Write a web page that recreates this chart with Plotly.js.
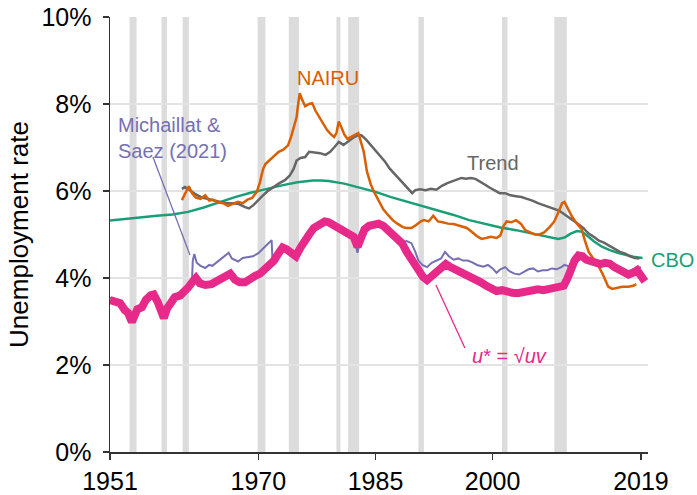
<!DOCTYPE html>
<html>
<head>
<meta charset="utf-8">
<script src="https://cdn.plot.ly/plotly-3.0.1.min.js"></script>
<style>html,body{margin:0;padding:0;background:#fff;}#chart{width:697px;height:495px;}</style>
</head>
<body>
<div id="chart"></div>
<script>
// NBER recessions
const recStart = [1953.5, 1957.6, 1960.3, 1969.9, 1973.9, 1980.0, 1981.5, 1990.5, 2001.2, 2007.9];
const recEnd   = [1954.4, 1958.3, 1961.1, 1970.9, 1975.2, 1980.5, 1982.9, 1991.2, 2001.9, 2009.5];

// u* = sqrt(uv)
const uStarYear = [1951.0,1951.6,1952.3,1952.9,1953.3,1953.8,1954.2,1954.5,1955.1,1955.6,1956.2,1956.6,1957.1,1957.6,1957.9,1958.3,1958.7,1959.3,1960.0,1960.5,1961.1,1961.6,1962.0,1962.5,1963.2,1964.0,1964.6,1965.2,1965.7,1966.4,1967.0,1967.6,1968.3,1969.0,1969.6,1970.2,1970.8,1971.4,1972.0,1972.5,1973.1,1973.6,1974.2,1974.8,1975.4,1975.9,1976.5,1977.1,1977.8,1978.5,1979.0,1979.6,1980.1,1980.6,1981.2,1981.7,1982.2,1982.7,1983.1,1983.6,1984.2,1984.8,1985.4,1986.0,1986.6,1987.2,1987.8,1988.4,1989.0,1989.5,1990.0,1990.6,1991.1,1991.6,1992.2,1992.8,1993.4,1994.0,1994.6,1995.2,1995.8,1996.5,1997.2,1997.8,1998.5,1999.2,1999.8,2000.5,2001.2,2001.8,2002.5,2003.2,2003.8,2004.5,2005.2,2005.8,2006.5,2007.2,2007.8,2008.5,2009.1,2009.6,2010.0,2010.5,2011.0,2011.5,2012.0,2012.6,2013.2,2013.8,2014.4,2015.0,2015.6,2016.2,2016.8,2017.4,2018.0,2018.5,2019.0,2019.5];
const uStarVal  = [3.49,3.45,3.42,3.26,3.2,2.99,3.15,3.28,3.33,3.5,3.6,3.62,3.45,3.25,3.08,3.3,3.42,3.56,3.6,3.68,3.8,3.92,4.0,3.88,3.84,3.86,3.92,3.98,4.02,4.1,3.96,3.9,3.9,4.0,4.05,4.1,4.2,4.3,4.4,4.55,4.7,4.66,4.57,4.5,4.7,4.88,5.0,5.15,5.22,5.3,5.28,5.22,5.2,5.15,5.1,5.05,4.95,4.72,4.95,5.12,5.2,5.25,5.25,5.2,5.1,5.05,4.95,4.8,4.6,4.45,4.3,4.12,4.02,3.95,4.05,4.1,4.22,4.32,4.25,4.2,4.15,4.1,4.02,3.95,3.9,3.82,3.75,3.7,3.72,3.68,3.66,3.65,3.68,3.72,3.72,3.74,3.72,3.74,3.76,3.78,3.82,4.0,4.2,4.4,4.52,4.5,4.42,4.4,4.36,4.32,4.35,4.33,4.25,4.18,4.15,4.08,4.12,4.18,4.05,3.92];

// Michaillat & Saez (2021)
const msYear = [1951.0,1951.6,1952.3,1952.9,1953.3,1953.8,1954.2,1954.5,1955.1,1955.6,1956.2,1956.6,1957.1,1957.6,1957.9,1958.3,1958.7,1959.3,1960.0,1960.5,1961.1,1961.5,1961.6,1961.8,1962.1,1962.6,1963.2,1963.7,1964.1,1964.6,1965.1,1965.7,1966.2,1966.6,1967.0,1967.4,1968.0,1968.7,1969.3,1970.0,1970.5,1970.8,1971.2,1971.7,1971.8,1972.0,1972.5,1973.1,1973.6,1974.2,1974.8,1975.4,1975.9,1976.5,1977.1,1977.8,1978.5,1979.0,1979.6,1980.1,1980.6,1981.2,1981.7,1982.2,1982.7,1983.1,1983.6,1984.2,1984.8,1985.4,1986.0,1986.6,1987.2,1987.8,1988.4,1989.0,1989.6,1990.1,1990.5,1991.0,1991.6,1992.2,1992.8,1993.4,1993.9,1994.4,1995.0,1995.6,1996.2,1996.8,1997.4,1998.0,1998.8,1999.4,2000.0,2000.5,2001.0,2001.6,2002.2,2002.8,2003.4,2004.0,2004.6,2005.2,2005.8,2006.4,2007.0,2007.6,2008.2,2008.8,2009.2,2009.6,2010.0,2010.5,2011.0,2011.5,2012.0,2012.6,2013.2,2013.8,2014.4,2015.0,2015.6,2016.2,2016.8,2017.4,2018.0,2018.5,2019.0];
const msVal  = [3.55,3.48,3.42,3.28,3.2,3.0,3.15,3.28,3.33,3.5,3.6,3.62,3.45,3.25,3.08,3.3,3.42,3.56,3.6,3.68,3.8,3.92,4.4,4.55,4.35,4.28,4.23,4.3,4.28,4.35,4.41,4.5,4.58,4.45,4.42,4.38,4.46,4.48,4.5,4.57,4.65,4.72,4.78,4.87,4.45,4.42,4.55,4.7,4.66,4.57,4.5,4.7,4.88,5.0,5.15,5.22,5.3,5.28,5.22,5.2,5.15,5.1,5.05,4.95,4.58,4.95,5.12,5.2,5.25,5.25,5.2,5.1,5.05,4.95,4.82,4.85,4.8,4.6,4.4,4.3,4.25,4.35,4.4,4.45,4.6,4.5,4.42,4.45,4.4,4.4,4.36,4.3,4.26,4.3,4.22,4.12,4.2,4.25,4.15,4.1,4.08,4.15,4.2,4.22,4.15,4.18,4.18,4.22,4.2,4.25,4.3,4.28,4.2,4.3,4.4,4.45,4.38,4.35,4.32,4.3,4.3,4.28,4.25,4.2,4.18,4.15,4.2,4.22,4.25];

// NAIRU
const nairuYear = [1960.2,1960.6,1961.1,1961.5,1962.0,1962.6,1963.2,1963.7,1964.2,1964.8,1965.5,1966.1,1966.7,1967.4,1968.0,1968.6,1969.2,1969.8,1970.2,1970.6,1970.9,1971.5,1972.0,1972.6,1973.2,1973.8,1974.2,1974.6,1974.9,1975.1,1975.3,1975.6,1976.0,1976.5,1976.9,1977.3,1977.8,1978.3,1978.8,1979.3,1979.7,1980.0,1980.3,1980.6,1981.0,1981.4,1981.9,1982.4,1982.8,1983.1,1983.5,1983.9,1984.4,1984.9,1985.5,1986.0,1986.6,1987.2,1987.8,1988.5,1989.0,1989.6,1990.2,1990.8,1991.2,1991.8,1992.4,1993.0,1993.6,1994.3,1995.0,1995.8,1996.7,1997.4,1998.0,1998.6,1999.2,1999.8,2000.5,2001.0,2001.4,2001.8,2002.4,2003.0,2003.6,2004.2,2004.8,2005.4,2006.0,2006.6,2007.3,2007.9,2008.4,2008.9,2009.2,2009.6,2010.2,2010.8,2011.4,2011.8,2012.3,2013.0,2013.5,2014.2,2014.8,2015.3,2015.9,2016.6,2017.4,2018.0,2018.4];
const nairuVal  = [5.79,5.95,6.11,5.95,5.85,5.82,5.9,5.78,5.8,5.74,5.72,5.66,5.7,5.75,5.72,5.8,5.84,5.98,6.2,6.5,6.62,6.72,6.8,6.9,6.95,7.05,7.25,7.5,7.7,8.0,8.25,8.1,7.95,8.0,8.02,7.85,7.7,7.56,7.4,7.3,7.24,7.33,7.6,7.48,7.3,7.2,7.25,7.29,7.33,7.15,6.9,6.45,6.15,5.95,5.75,5.58,5.45,5.33,5.25,5.17,5.15,5.15,5.22,5.3,5.33,5.3,5.43,5.3,5.28,5.25,5.24,5.2,5.15,5.05,4.96,4.9,4.92,4.95,4.92,4.98,5.2,5.3,5.28,5.33,5.25,5.1,5.05,5.0,5.0,5.05,5.17,5.3,5.5,5.72,5.75,5.6,5.4,5.25,5.12,4.87,4.6,4.42,4.3,4.05,3.8,3.75,3.78,3.8,3.8,3.82,3.86];

// Trend
const trendYear = [1960.2,1960.6,1961.2,1962.0,1962.8,1963.6,1964.4,1965.2,1966.0,1966.8,1967.5,1968.3,1968.8,1969.4,1969.9,1970.5,1971.2,1972.0,1972.7,1973.4,1974.0,1974.5,1974.9,1975.4,1976.0,1976.5,1977.2,1977.9,1978.6,1979.2,1979.7,1980.3,1980.9,1981.5,1982.1,1982.7,1983.2,1983.8,1984.4,1985.0,1985.6,1986.2,1986.8,1987.4,1988.0,1988.6,1989.2,1989.7,1990.1,1990.7,1991.4,1992.1,1992.8,1993.5,1994.2,1994.8,1995.4,1996.0,1996.6,1997.2,1997.8,1998.4,1999.0,1999.6,2000.3,2000.9,2001.6,2002.3,2003.0,2003.7,2004.4,2005.1,2005.8,2006.5,2007.1,2007.8,2008.5,2009.0,2009.6,2010.2,2010.9,2011.6,2012.3,2013.0,2013.6,2014.2,2014.9,2015.6,2016.3,2017.0,2017.6,2018.2,2018.8];
const trendVal  = [6.05,6.09,6.02,5.92,5.85,5.82,5.78,5.74,5.72,5.72,5.7,5.63,5.6,5.68,5.78,5.88,6.0,6.1,6.18,6.25,6.35,6.5,6.7,6.76,6.78,6.9,6.88,6.87,6.83,6.9,7.0,7.13,7.06,7.15,7.22,7.28,7.28,7.18,7.05,6.92,6.8,6.68,6.52,6.4,6.28,6.18,6.05,5.95,6.02,6.04,6.02,6.05,6.03,6.12,6.18,6.22,6.26,6.3,6.28,6.3,6.28,6.22,6.15,6.08,6.0,5.95,5.95,5.9,5.88,5.86,5.82,5.78,5.72,5.68,5.63,5.6,5.55,5.49,5.42,5.35,5.25,5.15,5.02,4.94,4.86,4.82,4.74,4.68,4.6,4.56,4.5,4.46,4.45];

// CBO
const cboYear = [1951,1953,1955,1957,1959,1961,1963,1965,1967,1969,1971,1973,1975,1977,1978,1979,1981,1983,1985,1987,1989,1991,1993,1995,1997,1999,2001,2003,2005,2006.5,2007.5,2008.4,2009.2,2010,2010.8,2011.5,2012.2,2013,2014,2015,2016,2017,2018,2019.2];
const cboVal  = [5.32,5.36,5.4,5.43,5.46,5.52,5.62,5.74,5.86,5.96,6.05,6.13,6.2,6.24,6.24,6.23,6.17,6.08,5.98,5.86,5.76,5.66,5.56,5.45,5.33,5.24,5.16,5.1,5.03,4.98,4.93,4.9,4.93,5.02,5.08,5.06,4.96,4.84,4.72,4.64,4.58,4.53,4.49,4.46];

const xTicks = [1951, 1970, 1985, 2000, 2019];
const yTicks = [0, 2, 4, 6, 8, 10];
const yTickText = ['0%', '2%', '4%', '6%', '8%', '10%'];

const FONT = '"Liberation Sans", Arial, Helvetica, sans-serif';
const C = {pink:'#e7298a', purple:'#7570b3', orange:'#d95f02', green:'#1b9e77', gray:'#666666'};

const traces = [
  {x: cboYear, y: cboVal, mode:'lines', line:{color:C.green, width:2.5}, hoverinfo:'skip'},
  {x: trendYear, y: trendVal, mode:'lines', line:{color:C.gray, width:2.5}, hoverinfo:'skip'},
  {x: nairuYear, y: nairuVal, mode:'lines', line:{color:C.orange, width:2.5}, hoverinfo:'skip'},
  {x: msYear, y: msVal, mode:'lines', line:{color:C.purple, width:2}, hoverinfo:'skip'},
  {x: uStarYear, y: uStarVal, mode:'lines', line:{color:C.pink, width:8}, hoverinfo:'skip'}
];

const shapes = recStart.map((s, i) => ({
  type:'rect', xref:'x', yref:'paper', x0:s, x1:recEnd[i], y0:0, y1:1,
  fillcolor:'#dcdcdc', line:{width:0}, layer:'below'
}));
shapes.push({type:'line', xref:'x', yref:'y', x0:1956.5, y0:6.78, x1:1961.24, y1:4.53, line:{color:C.purple, width:1.3}});
shapes.push({type:'line', xref:'x', yref:'y', x0:1996.45, y0:2.39, x1:1992.74, y1:3.84, line:{color:C.pink, width:1.3}});

const annotations = [
  {xref:'x', yref:'y', x:1978.9, y:8.6, text:'NAIRU', showarrow:false, font:{family:FONT, size:20, color:C.orange}},
  {xref:'x', yref:'y', x:1951.77, y:7.82, text:'Michaillat &<br>Saez (2021)', align:'left', xanchor:'left', yanchor:'top', showarrow:false, font:{family:FONT, size:20, color:C.purple}},
  {xref:'x', yref:'y', x:2000.0, y:6.64, text:'Trend', showarrow:false, font:{family:FONT, size:20, color:C.gray}},
  {xref:'x', yref:'y', x:2019.9, y:4.41, xanchor:'left', xshift:1, text:'CBO', showarrow:false, font:{family:FONT, size:20, color:C.green}},
  {xref:'x', yref:'y', x:2002.2, y:2.21, text:'<i>u</i>* = √<i>uv</i>', showarrow:false, font:{family:FONT, size:20, color:C.pink}}
];

const layout = {
  width:697, height:495,
  margin:{l:110, r:49, t:17, b:43},
  paper_bgcolor:'#ffffff', plot_bgcolor:'#ffffff',
  showlegend:false,
  font:{family:FONT, color:'#000'},
  xaxis:{
    range:[1951, 2019.9], tickvals:xTicks, ticktext:xTicks.map(String),
    ticks:'outside', ticklen:6, tickwidth:1.5, tickcolor:'#333',
    showline:true, linecolor:'#333', linewidth:1.5,
    showgrid:false, zeroline:false,
    tickfont:{family:FONT, size:25, color:'#000'}
  },
  yaxis:{
    range:[0, 10], tickvals:yTicks, ticktext:yTickText,
    ticks:'outside', ticklen:6, tickwidth:1.5, tickcolor:'#333',
    showline:true, linecolor:'#333', linewidth:1.5,
    showgrid:true, gridcolor:'#e3e3e3', gridwidth:1.2, zeroline:false,
    ticklabelstandoff:6,
    tickfont:{family:FONT, size:25, color:'#000'},
    title:{text:'Unemployment rate', font:{family:FONT, size:26, color:'#000'}, standoff:5}
  },
  shapes:shapes,
  annotations:annotations
};

Plotly.newPlot('chart', traces, layout, {staticPlot:true, displayModeBar:false});
</script>
</body>
</html>
